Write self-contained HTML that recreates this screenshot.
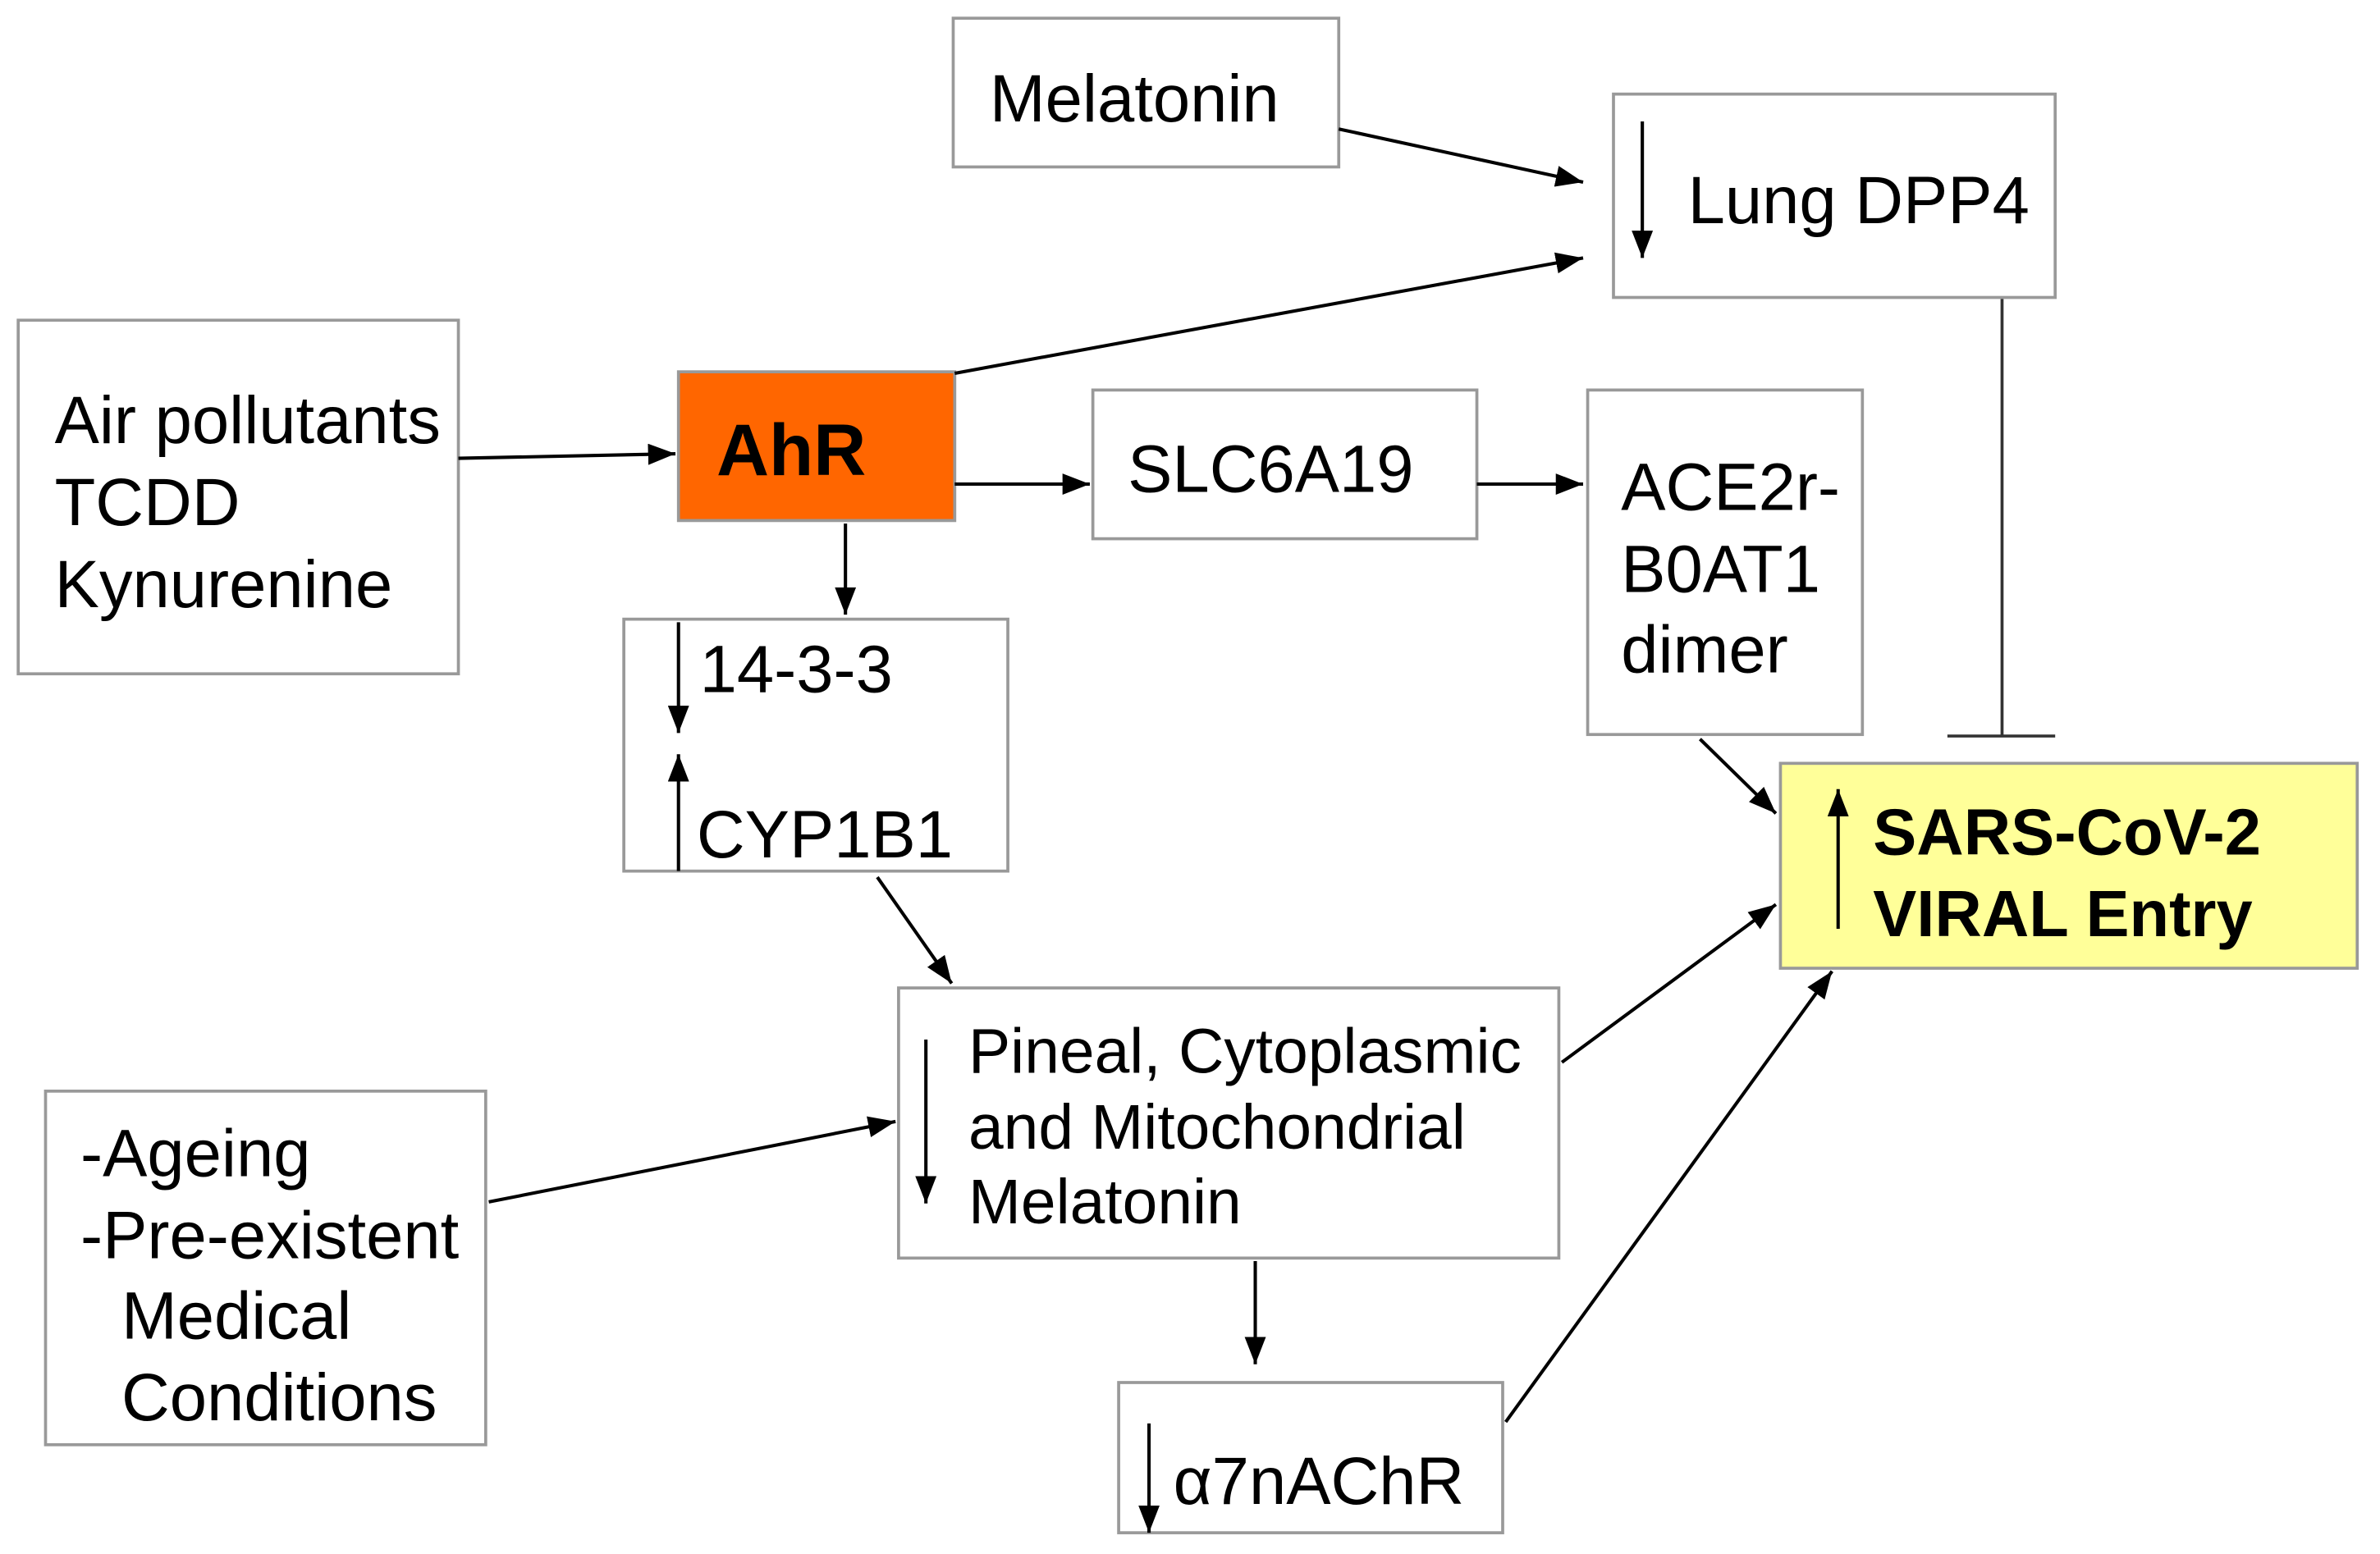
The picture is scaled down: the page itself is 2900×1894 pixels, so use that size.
<!DOCTYPE html>
<html><head><meta charset="utf-8"><style>
html,body{margin:0;padding:0;background:#fff;}
svg{display:block;}
text{font-family:"Liberation Sans",Arial,sans-serif;font-size:44px;fill:#000;}
</style></head><body>
<svg width="2900" height="1894" viewBox="0 0 1568 1024" preserveAspectRatio="none" xmlns="http://www.w3.org/2000/svg">
<defs>
<marker id="a" viewBox="0 0 18 14" refX="18" refY="7" markerWidth="18" markerHeight="14" markerUnits="userSpaceOnUse" orient="auto">
<path d="M0,0 L18,7 L0,14 Z" fill="#000"/></marker>
</defs>
<g fill="#fff" stroke="#999" stroke-width="2">
<rect x="628" y="12" width="254" height="98"/>
<rect x="1063" y="62" width="291" height="134"/>
<rect x="12" y="211" width="290" height="233"/>
<rect x="447" y="245" width="182" height="98" fill="#ff6600"/>
<rect x="720" y="257" width="253" height="98"/>
<rect x="1046" y="257" width="181" height="227"/>
<rect x="411" y="408" width="253" height="166"/>
<rect x="1173" y="503" width="380" height="135" fill="#ffff99"/>
<rect x="592" y="651" width="435" height="178"/>
<rect x="30" y="719" width="290" height="233"/>
<rect x="737" y="911" width="253" height="99"/>
</g>
<g stroke="#000" stroke-width="2.2" fill="none" marker-end="url(#a)">
<line x1="882" y1="85" x2="1043" y2="120"/>
<line x1="629" y1="246" x2="1043" y2="170"/>
<line x1="302" y1="302" x2="445" y2="299"/>
<line x1="629" y1="319" x2="718" y2="319"/>
<line x1="973" y1="319" x2="1043" y2="319"/>
<line x1="557" y1="345" x2="557" y2="405"/>
<line x1="578" y1="578" x2="627" y2="648"/>
<line x1="322" y1="792" x2="590" y2="739"/>
<line x1="1029" y1="700" x2="1170" y2="596"/>
<line x1="1120" y1="487" x2="1170" y2="536"/>
<line x1="992" y1="937" x2="1207" y2="640"/>
<line x1="827" y1="831" x2="827" y2="899"/>
<line x1="1082" y1="80" x2="1082" y2="170"/>
<line x1="447" y1="410" x2="447" y2="483"/>
<line x1="447" y1="574" x2="447" y2="497"/>
<line x1="1211" y1="612" x2="1211" y2="520"/>
<line x1="610" y1="685" x2="610" y2="793"/>
<line x1="757" y1="938" x2="757" y2="1010"/>
</g>
<g stroke="#333" stroke-width="2">
<line x1="1319" y1="197" x2="1319" y2="485"/>
<line x1="1283" y1="485" x2="1354" y2="485"/>
</g>
<text x="652" y="80">Melatonin</text>
<text x="1112" y="147">Lung DPP4</text>
<text x="36" y="292">Air pollutants</text>
<text x="36" y="346">TCDD</text>
<text x="36" y="400">Kynurenine</text>
<text x="472" y="313" font-weight="bold" style="font-size:48px">AhR</text>
<text x="743" y="324">SLC6A19</text>
<text x="1068" y="336">ACE2r-</text>
<text x="1068" y="390">B0AT1</text>
<text x="1068" y="443">dimer</text>
<text x="461" y="456">14-3-3</text>
<text x="459" y="565">CYP1B1</text>
<text x="1234" y="563" font-weight="bold" style="font-size:43px">SARS-CoV-2</text>
<text x="1234" y="617" font-weight="bold" style="font-size:43px">VIRAL Entry</text>
<text x="638" y="707" style="font-size:41.5px">Pineal, Cytoplasmic</text>
<text x="638" y="757" style="font-size:41.5px">and Mitochondrial</text>
<text x="638" y="806" style="font-size:41.5px">Melatonin</text>
<text x="53" y="775">-Ageing</text>
<text x="53" y="829">-Pre-existent</text>
<text x="80" y="882">Medical</text>
<text x="80" y="936">Conditions</text>
<text x="773" y="991">α7nAChR</text>
</svg>
</body></html>
